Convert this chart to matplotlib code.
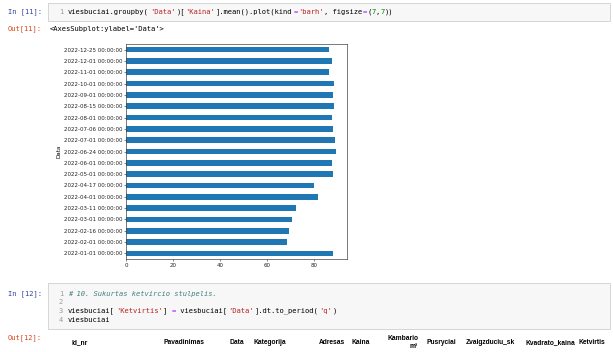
import matplotlib
matplotlib.use("Agg")
import matplotlib.pyplot as plt
from matplotlib.patches import Rectangle

# duomenys nuskaityti nuo paveikslo
datos = [
    "2022-01-01 00:00:00", "2022-02-01 00:00:00", "2022-02-16 00:00:00",
    "2022-03-01 00:00:00", "2022-03-11 00:00:00", "2022-04-01 00:00:00",
    "2022-04-17 00:00:00", "2022-05-01 00:00:00", "2022-06-01 00:00:00",
    "2022-06-24 00:00:00", "2022-07-01 00:00:00", "2022-07-06 00:00:00",
    "2022-08-01 00:00:00", "2022-08-15 00:00:00", "2022-09-01 00:00:00",
    "2022-10-01 00:00:00", "2022-11-01 00:00:00", "2022-12-01 00:00:00",
    "2022-12-25 00:00:00",
]
kaina = [88.1, 68.3, 69.1, 70.8, 72.3, 81.5, 80.1, 87.9, 87.4, 89.5,
         88.8, 87.9, 87.7, 88.4, 88.1, 88.5, 86.4, 87.4, 86.4]
x_ticks = [0, 20, 40, 60, 80]

stulpeliai = ["Id_nr", "Pavadinimas", "Data", "Kategorija", "Adresas", "Kaina",
              "Kambario\nm²", "Pusryciai", "Zvaigzduciu_sk", "Kvadrato_kaina", "Ketvirtis"]
stulp_x = [88, 205, 244, 286, 345, 370, 418, 456, 515, 575, 605]

W, H = 613, 352
fig = plt.figure(figsize=(W / 100, H / 100), dpi=100)


def fx(x):
    return x / W


def fy(y):
    return 1 - y / H


MONO = "DejaVu Sans Mono"
MS = 5.15
CW = 0.6021 * MS * 100 / 72 + 0.03  # simbolio plotis px


def code(x, y, parts):
    # parts: (tekstas, spalva, stilius)
    i = 0
    for p in parts:
        txt, col = p[0], p[1]
        style = p[2] if len(p) > 2 else "normal"
        fig.text(fx(x + i * CW), fy(y), txt, color=col, family=MONO, size=MS,
                 va="center", ha="left", style=style)
        i += len(txt)


def box(y0, y1):
    fig.patches.append(Rectangle((fx(48), fy(y1)), fx(610) - fx(48), fy(y0) - fy(y1),
                                 transform=fig.transFigure, facecolor="#f7f7f7",
                                 edgecolor="#cfcfcf", linewidth=0.6))


BLK, STR, OP, NUM, CMT, LN = "#000000", "#BA2121", "#AA22FF", "#008800", "#408080", "#999999"
IN_C, OUT_C = "#303F9F", "#D84315"

# In [11]
box(3, 21)
fig.text(fx(8), fy(12), "In [11]:", color=IN_C, family=MONO, size=MS, va="center")
fig.text(fx(59), fy(12), "1", color=LN, family=MONO, size=MS, va="center")
code(68, 12, [("viesbuciai.groupby(", BLK), ("'Data'", STR), (")[", BLK), ("'Kaina'", STR),
              ("].mean().plot(kind", BLK), ("=", OP), ("'barh'", STR), (", figsize", BLK),
              ("=", OP), ("(", BLK), ("7", NUM), (",", BLK), ("7", NUM), ("))", BLK)])
fig.text(fx(8), fy(29), "Out[11]:", color=OUT_C, family=MONO, size=MS, va="center")
fig.text(fx(50), fy(29), "<AxesSubplot:ylabel='Data'>", color=BLK, family=MONO, size=MS, va="center")

# grafikas
ax = fig.add_axes([fx(126), fy(259), fx(347) - fx(126), fy(44) - fy(259)])
ax.barh(range(len(kaina)), kaina, height=0.5, color="#1f77b4")
ax.set_ylim(-0.5, len(kaina) - 0.5)
ax.set_yticks(range(len(datos)))
ax.set_yticklabels(datos)
ax.set_xticks(x_ticks)
ax.tick_params(labelsize=4, length=1.4, width=0.4, pad=1.2, colors="#222222")
ax.set_ylabel("Data", fontsize=4, labelpad=1.5)
for s in ax.spines.values():
    s.set_linewidth(0.5)
    s.set_color("#444444")

# In [12]
box(283, 329)
fig.text(fx(8), fy(294), "In [12]:", color=IN_C, family=MONO, size=MS, va="center")
for n, yy in zip(["1", "2", "3", "4"], [294, 302.5, 311, 319.5]):
    fig.text(fx(59), fy(yy), n, color=LN, family=MONO, size=MS, va="center")
code(68, 294, [("# 10. Sukurtas ketvircio stulpelis.", CMT, "italic")])
code(68, 311, [("viesbuciai[", BLK), ("'Ketvirtis'", STR), ("] ", BLK), ("=", OP),
               (" viesbuciai[", BLK), ("'Data'", STR), ("].dt.to_period(", BLK),
               ("'q'", STR), (")", BLK)])
code(68, 319.5, [("viesbuciai", BLK)])
fig.text(fx(8), fy(338), "Out[12]:", color=OUT_C, family=MONO, size=MS, va="center")

for name, x in zip(stulpeliai, stulp_x):
    if "\n" in name:
        a, b = name.split("\n")
        fig.text(fx(x), fy(338), a, family="Liberation Sans", weight="bold", size=4.8,
                 ha="right", va="center")
        fig.text(fx(x), fy(347), b, family="Liberation Sans", weight="bold", size=4.8,
                 ha="right", va="center")
    else:
        fig.text(fx(x), fy(343), name, family="Liberation Sans", weight="bold", size=4.8,
                 ha="right", va="center")

fig.savefig("out.png", dpi=100)
